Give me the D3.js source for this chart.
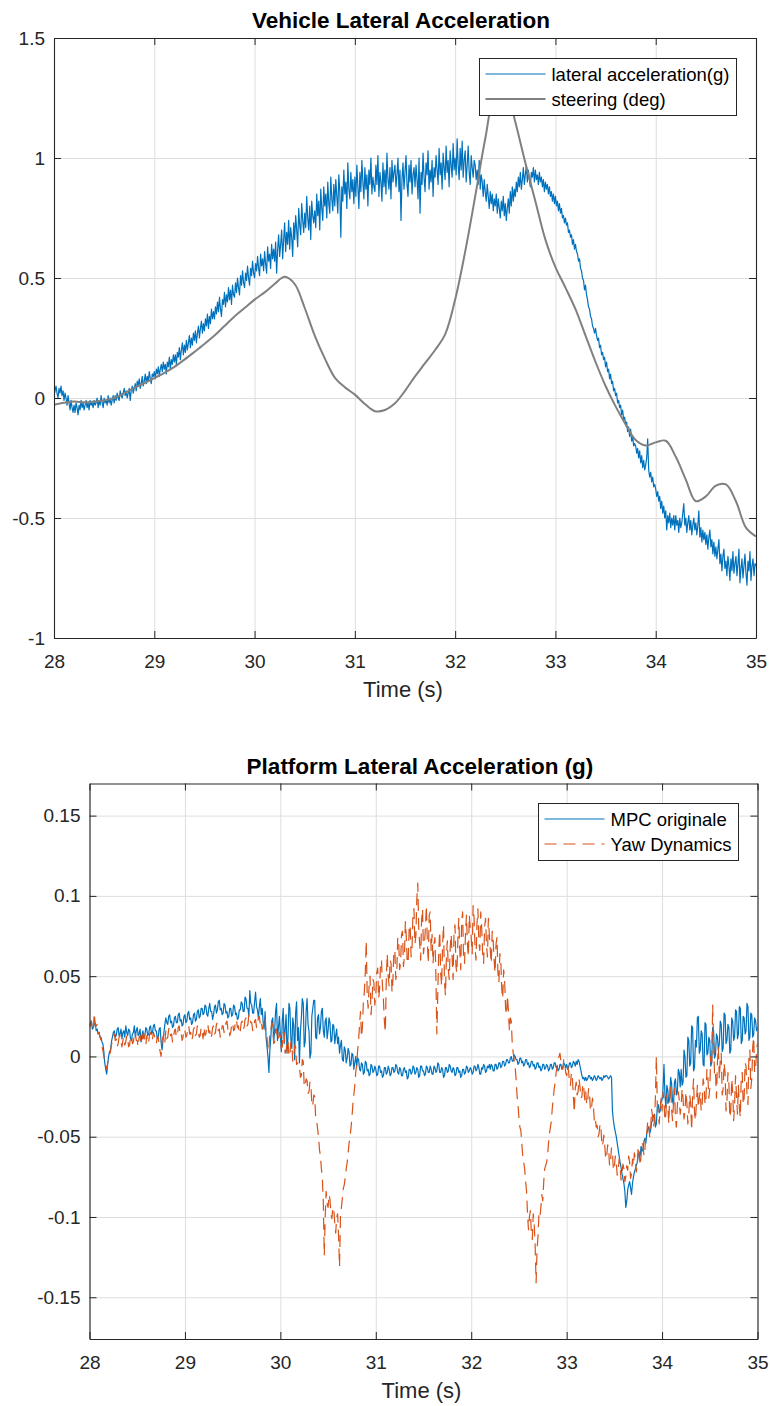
<!DOCTYPE html>
<html>
<head>
<meta charset="utf-8">
<script src="https://cdn.jsdelivr.net/npm/d3@7"></script>
<style>
  body { margin: 0; background: #ffffff; }
  svg { display: block; font-family: "Liberation Sans", Arial, Helvetica, sans-serif; }
</style>
</head>
<body>
<svg id="fig" width="770" height="1406"></svg>
<script>
// ---- time axis ----
const T0 = 28;   // first sample (s)
const T1 = 35;   // last sample (s)  -- every series is sampled uniformly over [T0, T1]

// ---- tick labels ----
const timeTicks = [28, 29, 30, 31, 32, 33, 34, 35];
const vehicleTicks = [-1, -0.5, 0, 0.5, 1, 1.5];
const platformTicks = [-0.15, -0.1, -0.05, 0, 0.05, 0.1, 0.15];

// ---- vehicle lateral acceleration (g), 0.01 s samples, one row = 0.2 s ----
const latAcc = [
  0.01, 0.03, 0.05, 0.02, 0.00, 0.04, 0.02, 0.05, 0.01, 0.03, -0.01, 0.02, 0.00, -0.03, 0.01, -0.02, -0.05, -0.01, -0.04, -0.06,
  -0.03, -0.06, -0.02, -0.04, -0.07, -0.03, -0.05, -0.01, -0.04, -0.02, -0.05, -0.03, -0.01, -0.04, -0.02, -0.05, -0.01, -0.03, -0.02, -0.04,
  -0.01, -0.03, -0.02, 0.00, -0.04, -0.01, -0.03, 0.01, -0.02, -0.04, 0.00, -0.02, -0.01, -0.03, 0.01, -0.02, 0.00, -0.03, -0.01, 0.01,
  -0.02, 0.01, -0.01, 0.02, 0.00, -0.01, 0.03, 0.01, 0.00, 0.02, 0.04, 0.01, 0.03, 0.00, 0.02, 0.04, -0.01, 0.03, 0.05, 0.02,
  0.04, 0.06, 0.03, 0.07, 0.05, 0.08, 0.04, 0.06, 0.09, 0.05, 0.07, 0.10, 0.06, 0.09, 0.07, 0.11, 0.08, 0.06, 0.10, 0.09,
  0.11, 0.08, 0.12, 0.10, 0.13, 0.09, 0.12, 0.14, 0.11, 0.15, 0.12, 0.14, 0.10, 0.15, 0.13, 0.17, 0.12, 0.16, 0.14, 0.18,
  0.15, 0.18, 0.14, 0.19, 0.17, 0.21, 0.16, 0.20, 0.23, 0.18, 0.22, 0.19, 0.24, 0.20, 0.23, 0.26, 0.21, 0.25, 0.22, 0.27,
  0.24, 0.28, 0.23, 0.27, 0.30, 0.25, 0.29, 0.32, 0.27, 0.31, 0.28, 0.33, 0.30, 0.35, 0.29, 0.34, 0.31, 0.37, 0.33, 0.36,
  0.33, 0.38, 0.35, 0.40, 0.36, 0.42, 0.37, 0.34, 0.41, 0.39, 0.44, 0.38, 0.43, 0.40, 0.46, 0.41, 0.45, 0.39, 0.47, 0.43,
  0.42, 0.48, 0.44, 0.50, 0.46, 0.43, 0.51, 0.47, 0.53, 0.48, 0.46, 0.52, 0.49, 0.55, 0.50, 0.47, 0.54, 0.51, 0.57, 0.52,
  0.50, 0.56, 0.53, 0.59, 0.54, 0.51, 0.60, 0.55, 0.58, 0.53, 0.61, 0.56, 0.52, 0.63, 0.57, 0.60, 0.54, 0.64, 0.58, 0.62,
  0.57, 0.65, 0.52, 0.62, 0.68, 0.59, 0.64, 0.70, 0.58, 0.66, 0.73, 0.61, 0.69, 0.64, 0.74, 0.62, 0.71, 0.67, 0.59, 0.73,
  0.66, 0.76, 0.70, 0.63, 0.79, 0.72, 0.68, 0.81, 0.74, 0.69, 0.77, 0.71, 0.84, 0.75, 0.70, 0.80, 0.66, 0.82, 0.76, 0.73,
  0.78, 0.71, 0.85, 0.76, 0.82, 0.70, 0.87, 0.79, 0.74, 0.88, 0.80, 0.85, 0.75, 0.90, 0.81, 0.77, 0.92, 0.83, 0.78, 0.89,
  0.80, 0.91, 0.84, 0.77, 0.93, 0.86, 0.67, 0.88, 0.82, 0.95, 0.85, 0.90, 0.79, 0.98, 0.87, 0.83, 0.94, 0.86, 0.91, 0.81,
  0.92, 0.84, 0.97, 0.88, 0.79, 0.94, 0.86, 0.99, 0.90, 0.83, 0.96, 0.87, 0.93, 0.80, 0.95, 0.89, 1.00, 0.85, 0.92, 0.88,
  0.86, 0.97, 0.89, 1.01, 0.84, 0.94, 0.90, 0.82, 0.98, 0.88, 0.95, 0.85, 1.02, 0.91, 0.87, 0.96, 0.83, 0.99, 0.90, 0.94,
  0.97, 0.88, 0.93, 1.00, 0.86, 0.95, 0.74, 0.91, 0.98, 0.87, 0.94, 1.01, 0.89, 0.84, 0.97, 0.90, 0.99, 0.85, 0.93, 0.96,
  0.88, 0.97, 0.91, 0.83, 1.00, 0.77, 0.94, 0.89, 1.02, 0.92, 0.86, 0.98, 0.93, 1.03, 0.87, 0.95, 0.90, 0.99, 0.84, 0.96,
  0.92, 1.01, 0.95, 0.89, 1.04, 0.93, 0.98, 0.87, 1.02, 0.96, 0.91, 1.05, 0.94, 0.99, 0.88, 1.03, 0.97, 0.92, 1.06, 0.95,
  1.00, 0.93, 1.08, 0.97, 0.91, 1.04, 0.95, 1.07, 0.92, 0.99, 1.03, 0.90, 0.97, 1.05, 0.94, 0.89, 1.01, 0.96, 0.92, 0.99,
  0.97, 0.91, 0.95, 0.89, 0.99, 0.87, 0.93, 0.90, 0.84, 0.91, 0.86, 0.82, 0.89, 0.84, 0.79, 0.86, 0.81, 0.85, 0.78, 0.83,
  0.80, 0.85, 0.77, 0.83, 0.79, 0.75, 0.82, 0.78, 0.84, 0.76, 0.81, 0.74, 0.79, 0.83, 0.77, 0.86, 0.80, 0.88, 0.82, 0.87,
  0.84, 0.90, 0.86, 0.92, 0.88, 0.94, 0.87, 0.91, 0.96, 0.89, 0.93, 0.97, 0.90, 0.95, 0.91, 0.88, 0.94, 0.92, 0.96, 0.90,
  0.95, 0.91, 0.93, 0.89, 0.94, 0.90, 0.92, 0.88, 0.91, 0.86, 0.90, 0.87, 0.89, 0.85, 0.88, 0.84, 0.86, 0.82, 0.85, 0.81,
  0.84, 0.80, 0.82, 0.78, 0.81, 0.77, 0.79, 0.75, 0.76, 0.73, 0.75, 0.72, 0.73, 0.69, 0.70, 0.67, 0.68, 0.64, 0.66, 0.62,
  0.64, 0.61, 0.60, 0.57, 0.58, 0.54, 0.53, 0.50, 0.49, 0.45, 0.47, 0.43, 0.41, 0.38, 0.37, 0.34, 0.33, 0.30, 0.29, 0.27,
  0.29, 0.26, 0.24, 0.25, 0.21, 0.22, 0.18, 0.19, 0.16, 0.17, 0.13, 0.15, 0.11, 0.12, 0.08, 0.10, 0.06, 0.07, 0.03, 0.04,
  0.01, 0.02, -0.02, -0.01, -0.04, -0.03, -0.07, -0.05, -0.09, -0.08, -0.11, -0.10, -0.14, -0.12, -0.16, -0.13, -0.18, -0.16, -0.20, -0.19,
  -0.20, -0.23, -0.21, -0.25, -0.22, -0.27, -0.24, -0.29, -0.26, -0.30, -0.28, -0.25, -0.17, -0.30, -0.33, -0.31, -0.35, -0.33, -0.37, -0.36,
  -0.38, -0.41, -0.39, -0.43, -0.41, -0.46, -0.43, -0.48, -0.45, -0.50, -0.47, -0.55, -0.49, -0.52, -0.48, -0.54, -0.50, -0.53, -0.49, -0.55,
  -0.49, -0.53, -0.51, -0.56, -0.50, -0.54, -0.52, -0.48, -0.44, -0.53, -0.50, -0.56, -0.52, -0.49, -0.55, -0.51, -0.57, -0.53, -0.50, -0.55,
  -0.52, -0.57, -0.53, -0.47, -0.58, -0.54, -0.60, -0.55, -0.59, -0.56, -0.61, -0.57, -0.63, -0.58, -0.55, -0.62, -0.59, -0.65, -0.60, -0.66,
  -0.62, -0.67, -0.63, -0.59, -0.69, -0.65, -0.72, -0.66, -0.63, -0.71, -0.68, -0.74, -0.66, -0.70, -0.76, -0.67, -0.72, -0.64, -0.73, -0.69,
  -0.66, -0.74, -0.69, -0.63, -0.77, -0.71, -0.67, -0.75, -0.70, -0.65, -0.73, -0.78, -0.68, -0.72, -0.64, -0.76, -0.70, -0.67, -0.74, -0.69,
  -0.70
];

// ---- steering (deg), 0.1 s samples, one row = 1 s ----
const steering = [
  -0.028, -0.020, -0.015, -0.018, -0.015, -0.010, 0.000, 0.020, 0.042, 0.062,
  0.083, 0.105, 0.130, 0.160, 0.192, 0.225, 0.260, 0.300, 0.340, 0.375,
  0.410, 0.440, 0.475, 0.505, 0.475, 0.375, 0.260, 0.165, 0.085, 0.045,
  0.014, -0.025, -0.055, -0.050, -0.022, 0.030, 0.090, 0.145, 0.200, 0.265,
  0.410, 0.610, 0.840, 1.080, 1.270, 1.300, 1.150, 0.980, 0.820, 0.660,
  0.545, 0.460, 0.370, 0.260, 0.150, 0.050, -0.035, -0.110, -0.175, -0.198,
  -0.185, -0.178, -0.245, -0.340, -0.430, -0.410, -0.365, -0.360, -0.430, -0.540,
  -0.577
];

// ---- platform lateral acceleration (g), 0.01 s samples, one row = 0.2 s ----
const mpcOriginale = [
  0.019, 0.021, 0.022, 0.017, 0.018, 0.020, 0.021, 0.016, 0.017, 0.014, 0.015, 0.012, 0.012, 0.009, 0.008, 0.003, -0.004, -0.008, -0.011, -0.005,
  0.000, 0.003, 0.004, 0.009, 0.012, 0.015, 0.016, 0.012, 0.013, 0.017, 0.018, 0.013, 0.014, 0.017, 0.011, 0.015, 0.016, 0.012, 0.019, 0.015,
  0.013, 0.017, 0.016, 0.011, 0.010, 0.014, 0.015, 0.019, 0.012, 0.016, 0.018, 0.013, 0.014, 0.017, 0.009, 0.013, 0.016, 0.011, 0.013, 0.018,
  0.017, 0.013, 0.014, 0.018, 0.019, 0.014, 0.015, 0.019, 0.020, 0.016, 0.016, 0.011, 0.012, 0.017, 0.018, 0.009, 0.004, 0.010, 0.015, 0.020,
  0.024, 0.021, 0.020, 0.025, 0.026, 0.021, 0.022, 0.018, 0.019, 0.024, 0.025, 0.021, 0.021, 0.026, 0.027, 0.022, 0.023, 0.019, 0.020, 0.025,
  0.026, 0.021, 0.022, 0.027, 0.028, 0.023, 0.024, 0.020, 0.021, 0.026, 0.027, 0.022, 0.023, 0.028, 0.029, 0.024, 0.025, 0.030, 0.030, 0.026,
  0.027, 0.032, 0.031, 0.026, 0.025, 0.030, 0.033, 0.028, 0.028, 0.023, 0.026, 0.031, 0.032, 0.027, 0.029, 0.034, 0.035, 0.029, 0.030, 0.026,
  0.027, 0.033, 0.032, 0.027, 0.028, 0.024, 0.025, 0.030, 0.030, 0.025, 0.026, 0.032, 0.031, 0.026, 0.027, 0.023, 0.024, 0.029, 0.029, 0.034,
  0.033, 0.028, 0.028, 0.037, 0.036, 0.030, 0.030, 0.025, 0.041, 0.033, 0.032, 0.027, 0.027, 0.034, 0.040, 0.031, 0.029, 0.024, 0.031, 0.036,
  0.026, 0.030, 0.021, 0.017, 0.028, 0.012, 0.006, 0.000, -0.010, 0.004, 0.012, 0.022, 0.024, 0.009, 0.016, 0.028, 0.033, 0.010, 0.018, 0.025,
  0.014, 0.003, 0.022, 0.030, 0.008, 0.017, 0.026, 0.002, 0.012, 0.033, 0.030, 0.011, 0.005, 0.024, 0.019, -0.002, 0.027, 0.034, 0.010, 0.018,
  -0.004, 0.015, 0.024, 0.036, 0.033, 0.006, 0.009, 0.028, 0.036, 0.020, 0.016, -0.001, 0.002, 0.025, 0.030, 0.035, 0.035, 0.012, 0.011, 0.024,
  0.026, 0.014, 0.018, 0.028, 0.030, 0.016, 0.012, 0.022, 0.024, 0.011, 0.016, 0.024, 0.021, 0.009, 0.010, 0.020, 0.019, 0.008, 0.013, 0.017,
  0.008, 0.012, 0.002, 0.007, 0.010, -0.002, -0.003, 0.006, 0.004, -0.004, -0.001, 0.005, 0.003, -0.006, -0.005, 0.002, 0.001, -0.008, -0.004, 0.000,
  -0.006, -0.001, -0.002, -0.008, -0.009, -0.004, -0.005, -0.011, -0.010, -0.003, -0.004, -0.009, -0.008, -0.012, -0.011, -0.005, -0.006, -0.010, -0.009, -0.006,
  -0.008, -0.012, -0.011, -0.006, -0.006, -0.010, -0.009, -0.013, -0.012, -0.007, -0.007, -0.011, -0.010, -0.006, -0.008, -0.012, -0.011, -0.007, -0.007, -0.010,
  -0.009, -0.005, -0.006, -0.010, -0.011, -0.007, -0.008, -0.012, -0.012, -0.008, -0.007, -0.010, -0.009, -0.014, -0.013, -0.008, -0.008, -0.011, -0.010, -0.006,
  -0.007, -0.011, -0.010, -0.007, -0.008, -0.013, -0.012, -0.006, -0.006, -0.009, -0.009, -0.012, -0.011, -0.006, -0.007, -0.010, -0.010, -0.006, -0.008, -0.011,
  -0.011, -0.006, -0.007, -0.010, -0.009, -0.004, -0.005, -0.010, -0.010, -0.007, -0.008, -0.013, -0.012, -0.007, -0.007, -0.010, -0.009, -0.005, -0.006, -0.009,
  -0.010, -0.007, -0.008, -0.012, -0.011, -0.007, -0.007, -0.010, -0.009, -0.013, -0.012, -0.008, -0.008, -0.011, -0.010, -0.006, -0.007, -0.010, -0.009, -0.007,
  -0.008, -0.011, -0.010, -0.006, -0.006, -0.009, -0.008, -0.005, -0.007, -0.011, -0.011, -0.007, -0.008, -0.005, -0.006, -0.010, -0.009, -0.006, -0.007, -0.005,
  -0.008, -0.005, -0.006, -0.009, -0.009, -0.005, -0.005, -0.008, -0.007, -0.004, -0.004, -0.007, -0.006, -0.003, -0.003, -0.006, -0.005, -0.002, -0.002, -0.004,
  -0.004, -0.001, 0.000, -0.003, -0.003, 0.001, 0.000, -0.002, -0.002, -0.005, -0.004, -0.001, -0.001, -0.004, -0.003, -0.006, -0.005, -0.002, -0.002, -0.005,
  -0.004, -0.007, -0.006, -0.003, -0.003, -0.006, -0.005, -0.008, -0.007, -0.004, -0.004, -0.007, -0.006, -0.009, -0.008, -0.005, -0.005, -0.008, -0.007, -0.005,
  -0.006, -0.009, -0.008, -0.005, -0.005, -0.008, -0.007, -0.004, -0.004, -0.007, -0.006, -0.009, -0.008, -0.005, -0.005, -0.008, -0.007, -0.004, -0.005, -0.007,
  -0.005, -0.008, -0.007, -0.004, -0.004, -0.007, -0.006, -0.003, -0.004, -0.006, -0.003, -0.005, -0.002, -0.003, -0.006, -0.009, -0.012, -0.014, -0.013, -0.015,
  -0.013, -0.015, -0.014, -0.012, -0.012, -0.014, -0.013, -0.015, -0.014, -0.012, -0.013, -0.015, -0.014, -0.012, -0.013, -0.014, -0.013, -0.015, -0.014, -0.012,
  -0.013, -0.012, -0.012, -0.013, -0.014, -0.013, -0.012, -0.013, -0.034, -0.040, -0.044, -0.047, -0.050, -0.054, -0.058, -0.062, -0.066, -0.069, -0.073, -0.076,
  -0.079, -0.084, -0.094, -0.090, -0.083, -0.080, -0.078, -0.082, -0.086, -0.079, -0.075, -0.072, -0.070, -0.068, -0.066, -0.062, -0.060, -0.062, -0.056, -0.059,
  -0.058, -0.053, -0.051, -0.054, -0.048, -0.045, -0.044, -0.048, -0.046, -0.041, -0.040, -0.037, -0.036, -0.044, -0.042, -0.031, -0.030, -0.035, -0.034, -0.028,
  -0.027, -0.020, -0.005, -0.024, -0.032, -0.018, -0.021, -0.029, -0.026, -0.013, -0.017, -0.028, -0.030, -0.016, -0.014, -0.024, -0.022, -0.008, -0.010, -0.019,
  -0.008, -0.018, -0.016, 0.004, 0.000, -0.013, -0.012, 0.012, 0.010, -0.006, -0.004, 0.019, 0.018, -0.009, -0.007, 0.010, 0.006, 0.024, 0.025, 0.002,
  0.004, 0.016, 0.014, -0.005, -0.006, 0.021, 0.020, 0.001, 0.002, 0.012, 0.010, -0.006, -0.004, 0.018, 0.016, -0.001, 0.001, 0.014, 0.012, 0.004,
  0.008, 0.022, 0.020, 0.003, 0.005, 0.027, 0.026, 0.008, 0.010, 0.020, 0.018, 0.002, 0.004, 0.024, 0.022, 0.010, 0.012, 0.029, 0.028, 0.011,
  0.014, 0.031, 0.030, 0.008, 0.010, 0.025, 0.024, 0.014, 0.016, 0.033, 0.031, 0.010, 0.012, 0.027, 0.026, 0.012, 0.014, 0.024, 0.022, 0.016,
  0.018
];

const yawDynamics = [
  0.018, 0.020, 0.022, 0.016, 0.017, 0.027, 0.020, 0.019, 0.020, 0.014, 0.015, 0.012, 0.010, 0.006, 0.004, 0.000, -0.003, -0.006, -0.008, -0.004,
  -0.002, 0.001, 0.003, 0.007, 0.010, 0.013, 0.014, 0.010, 0.011, 0.006, 0.008, 0.012, 0.013, 0.009, 0.006, 0.010, 0.012, 0.007, 0.009, 0.013,
  0.011, 0.006, 0.007, 0.012, 0.013, 0.008, 0.009, 0.014, 0.015, 0.010, 0.010, 0.006, 0.012, 0.013, 0.008, 0.009, 0.014, 0.014, 0.011, 0.007,
  0.013, 0.008, 0.009, 0.014, 0.015, 0.010, 0.011, 0.015, 0.013, 0.009, 0.008, 0.012, 0.012, 0.007, 0.003, 0.000, 0.010, 0.012, 0.014, 0.009,
  0.016, 0.011, 0.012, 0.017, 0.018, 0.013, 0.014, 0.009, 0.011, 0.016, 0.017, 0.012, 0.013, 0.018, 0.019, 0.014, 0.015, 0.010, 0.012, 0.017,
  0.016, 0.012, 0.013, 0.018, 0.019, 0.014, 0.015, 0.010, 0.012, 0.017, 0.018, 0.013, 0.014, 0.019, 0.017, 0.012, 0.013, 0.018, 0.016, 0.011,
  0.018, 0.013, 0.014, 0.019, 0.020, 0.015, 0.016, 0.011, 0.013, 0.018, 0.019, 0.014, 0.015, 0.020, 0.021, 0.016, 0.017, 0.012, 0.014, 0.019,
  0.019, 0.015, 0.016, 0.021, 0.022, 0.017, 0.018, 0.013, 0.015, 0.020, 0.021, 0.016, 0.017, 0.022, 0.023, 0.018, 0.019, 0.014, 0.016, 0.021,
  0.022, 0.017, 0.018, 0.023, 0.024, 0.019, 0.020, 0.026, 0.026, 0.021, 0.021, 0.016, 0.017, 0.022, 0.023, 0.018, 0.019, 0.024, 0.025, 0.020,
  0.022, 0.017, 0.018, 0.024, 0.024, 0.012, 0.012, 0.003, 0.004, 0.016, 0.016, 0.021, 0.020, 0.008, 0.009, 0.017, 0.017, 0.010, 0.011, 0.015,
  0.012, 0.005, 0.006, 0.015, 0.015, 0.002, 0.003, 0.010, 0.010, 0.000, 0.001, 0.009, 0.008, -0.003, -0.002, 0.007, 0.006, -0.005, -0.004, -0.006,
  -0.006, -0.013, -0.012, -0.002, -0.003, -0.019, -0.018, -0.014, -0.015, -0.023, -0.022, -0.016, -0.017, -0.031, -0.030, -0.024, -0.025, -0.038, -0.040, -0.045,
  -0.050, -0.058, -0.062, -0.070, -0.076, -0.090, -0.124, -0.100, -0.084, -0.092, -0.094, -0.086, -0.089, -0.098, -0.101, -0.094, -0.095, -0.104, -0.110, -0.100,
  -0.098, -0.112, -0.131, -0.100, -0.094, -0.088, -0.082, -0.080, -0.075, -0.070, -0.066, -0.060, -0.054, -0.050, -0.045, -0.038, -0.030, -0.024, -0.018, -0.010,
  -0.005, 0.004, 0.010, 0.020, 0.028, 0.012, 0.018, 0.034, 0.040, 0.052, 0.072, 0.038, 0.030, 0.044, 0.050, 0.026, 0.034, 0.048, 0.046, 0.032,
  0.038, 0.052, 0.055, 0.036, 0.042, 0.058, 0.060, 0.044, 0.035, 0.022, 0.015, 0.048, 0.064, 0.050, 0.044, 0.060, 0.058, 0.040, 0.048, 0.066,
  0.066, 0.048, 0.052, 0.074, 0.072, 0.054, 0.058, 0.076, 0.078, 0.056, 0.062, 0.084, 0.074, 0.058, 0.060, 0.080, 0.082, 0.062, 0.068, 0.090,
  0.092, 0.070, 0.075, 0.098, 0.108, 0.080, 0.070, 0.060, 0.085, 0.092, 0.064, 0.070, 0.080, 0.094, 0.072, 0.058, 0.088, 0.090, 0.066, 0.076,
  0.058, 0.070, 0.074, 0.050, 0.014, 0.040, 0.066, 0.078, 0.052, 0.044, 0.070, 0.082, 0.046, 0.038, 0.062, 0.072, 0.054, 0.048, 0.068, 0.076,
  0.062, 0.048, 0.078, 0.082, 0.056, 0.052, 0.072, 0.086, 0.066, 0.054, 0.084, 0.090, 0.060, 0.058, 0.076, 0.088, 0.070, 0.062, 0.088, 0.080,
  0.074, 0.064, 0.094, 0.086, 0.068, 0.060, 0.082, 0.092, 0.072, 0.066, 0.090, 0.080, 0.064, 0.058, 0.080, 0.086, 0.070, 0.062, 0.086, 0.076,
  0.066, 0.058, 0.078, 0.072, 0.060, 0.052, 0.070, 0.074, 0.052, 0.046, 0.064, 0.060, 0.042, 0.036, 0.054, 0.048, 0.030, 0.026, 0.038, 0.028,
  0.016, 0.024, 0.022, 0.008, 0.002, -0.002, -0.006, -0.014, -0.024, -0.030, -0.038, -0.044, -0.046, -0.054, -0.062, -0.066, -0.070, -0.078, -0.084, -0.098,
  -0.108, -0.100, -0.096, -0.110, -0.114, -0.098, -0.104, -0.118, -0.141, -0.120, -0.112, -0.098, -0.100, -0.094, -0.086, -0.090, -0.078, -0.070, -0.068, -0.066,
  -0.062, -0.054, -0.048, -0.044, -0.040, -0.032, -0.026, -0.020, -0.016, -0.010, -0.006, -0.002, 0.000, 0.002, -0.003, -0.006, -0.008, -0.002, -0.004, -0.010,
  -0.012, -0.006, -0.009, -0.016, -0.018, -0.010, -0.013, -0.024, -0.035, -0.020, -0.016, -0.024, -0.022, -0.014, -0.019, -0.026, -0.025, -0.017, -0.020, -0.027,
  -0.022, -0.030, -0.028, -0.020, -0.024, -0.034, -0.033, -0.026, -0.030, -0.040, -0.038, -0.044, -0.043, -0.050, -0.048, -0.042, -0.045, -0.056, -0.054, -0.049,
  -0.056, -0.064, -0.062, -0.055, -0.058, -0.068, -0.065, -0.057, -0.060, -0.071, -0.069, -0.062, -0.066, -0.074, -0.071, -0.064, -0.068, -0.077, -0.073, -0.067,
  -0.070, -0.078, -0.075, -0.068, -0.071, -0.062, -0.066, -0.076, -0.073, -0.064, -0.068, -0.060, -0.064, -0.072, -0.067, -0.056, -0.060, -0.068, -0.062, -0.054,
  -0.055, -0.062, -0.058, -0.047, -0.048, -0.040, -0.042, -0.050, -0.045, -0.033, -0.037, -0.044, -0.040, -0.026, 0.000, -0.030, -0.036, -0.042, -0.032, -0.026,
  -0.034, -0.022, -0.028, -0.040, -0.036, -0.024, -0.030, -0.042, -0.025, -0.018, -0.033, -0.040, -0.029, -0.020, -0.038, -0.044, -0.031, -0.022, -0.027, -0.036,
  -0.031, -0.020, -0.026, -0.039, -0.034, -0.022, -0.029, -0.042, -0.036, -0.024, -0.030, -0.046, -0.024, -0.014, -0.035, -0.040, -0.028, -0.018, -0.032, -0.026,
  -0.022, -0.034, -0.030, -0.014, -0.018, -0.030, -0.026, -0.008, -0.012, -0.026, -0.020, 0.000, -0.006, 0.032, 0.010, -0.012, -0.010, -0.026, -0.004, 0.006,
  -0.014, -0.002, 0.002, -0.024, -0.020, -0.004, -0.010, -0.034, -0.028, -0.010, -0.016, -0.038, -0.034, -0.014, -0.022, -0.040, -0.030, -0.012, -0.024, -0.036,
  -0.018, -0.032, -0.038, -0.012, -0.010, -0.030, -0.026, -0.004, -0.006, -0.024, -0.030, 0.000, 0.004, -0.020, -0.014, 0.006, 0.012, -0.010, -0.008, 0.004,
  0.008
];

// ---- styling ----
const AXIS_COLOR = "#262626";
const GRID_COLOR = "#dedede";
const BLUE = "#0072BD";
const GREY = "#808080";
const ORANGE = "#D95319";
const TICK_FONT = 19;
const TICK_LEN = 7;

const svg = d3.select("#fig");
const defs = svg.append("defs");
const fmt = d => String(d);

function drawPanel(p) {
  const x = d3.scaleLinear().domain([T0, T1]).range([p.left, p.right]);
  const y = d3.scaleLinear().domain(p.yDomain).range([p.bottom, p.top]);
  const w = p.right - p.left, h = p.bottom - p.top;
  const g = svg.append("g");

  // grid
  g.append("g")
    .attr("transform", `translate(0,${p.bottom})`)
    .call(d3.axisBottom(x).tickValues(timeTicks).tickSize(-h).tickFormat(""))
    .call(s => { s.select(".domain").remove(); s.selectAll("line").attr("stroke", GRID_COLOR); });
  g.append("g")
    .attr("transform", `translate(${p.left},0)`)
    .call(d3.axisLeft(y).tickValues(p.yTicks).tickSize(-w).tickFormat(""))
    .call(s => { s.select(".domain").remove(); s.selectAll("line").attr("stroke", GRID_COLOR); });

  // signals, clipped to the axes box
  defs.append("clipPath").attr("id", "clip-" + p.id)
    .append("rect").attr("x", p.left).attr("y", p.top).attr("width", w).attr("height", h);
  const plot = g.append("g").attr("clip-path", `url(#clip-${p.id})`);
  p.series.forEach(s => {
    const step = (T1 - T0) / (s.values.length - 1);
    const line = d3.line()
      .x((d, i) => x(T0 + i * step))
      .y(d => y(d))
      .curve(s.curve || d3.curveLinear);
    plot.append("path")
      .datum(s.values)
      .attr("d", line)
      .attr("fill", "none")
      .attr("stroke", s.color)
      .attr("stroke-width", s.width)
      .attr("stroke-linejoin", "round")
      .attr("stroke-dasharray", s.dash || null);
  });

  // axes with inward ticks on all four sides
  const style = s => {
    s.attr("font-family", null).attr("font-size", null);
    s.selectAll(".domain").attr("stroke", AXIS_COLOR).attr("stroke-width", 1.1);
    s.selectAll(".tick line").attr("stroke", AXIS_COLOR);
    s.selectAll(".tick text").attr("fill", AXIS_COLOR).style("font-size", TICK_FONT + "px");
  };
  g.append("g").attr("transform", `translate(0,${p.bottom})`)
    .call(d3.axisBottom(x).tickValues(timeTicks).tickSizeInner(-TICK_LEN).tickSizeOuter(0)
      .tickPadding(16.5).tickFormat(fmt))
    .call(style);
  g.append("g").attr("transform", `translate(0,${p.top})`)
    .call(d3.axisTop(x).tickValues(timeTicks).tickSizeInner(-TICK_LEN).tickSizeOuter(0).tickFormat(""))
    .call(style);
  g.append("g").attr("transform", `translate(${p.left},0)`)
    .call(d3.axisLeft(y).tickValues(p.yTicks).tickSizeInner(-TICK_LEN).tickSizeOuter(0)
      .tickPadding(9).tickFormat(fmt))
    .call(style);
  g.append("g").attr("transform", `translate(${p.right},0)`)
    .call(d3.axisRight(y).tickValues(p.yTicks).tickSizeInner(-TICK_LEN).tickSizeOuter(0).tickFormat(""))
    .call(style);

  // title and x label
  g.append("text")
    .attr("x", p.titleX).attr("y", p.titleY)
    .attr("text-anchor", "middle")
    .attr("font-weight", "bold").attr("font-size", 22.5).attr("fill", "#000")
    .text(p.title);
  g.append("text")
    .attr("x", (p.left + p.right) / 2 - 2).attr("y", p.bottom + 59)
    .attr("text-anchor", "middle")
    .attr("font-size", 22).attr("fill", AXIS_COLOR)
    .text("Time (s)");

  // legend
  const L = p.legend;
  const lg = g.append("g");
  lg.append("rect")
    .attr("x", L.x).attr("y", L.y).attr("width", L.w).attr("height", L.h)
    .attr("fill", "#fff").attr("stroke", AXIS_COLOR).attr("stroke-width", 1);
  p.series.forEach((s, i) => {
    const cy = L.y + L.firstRow + i * L.rowGap;
    lg.append("line")
      .attr("x1", L.x + 6).attr("x2", L.x + 66).attr("y1", cy).attr("y2", cy)
      .attr("stroke", s.color).attr("stroke-width", s.width)
      .attr("stroke-dasharray", s.dash || null);
    lg.append("text")
      .attr("x", L.x + 72).attr("y", cy + 6.5)
      .attr("font-size", 18.5).attr("fill", "#000")
      .text(s.name);
  });
}

drawPanel({
  id: "vehicle",
  left: 54, right: 756, top: 38, bottom: 638,
  yDomain: [-1, 1.5], yTicks: vehicleTicks,
  title: "Vehicle Lateral Acceleration", titleX: 401, titleY: 28,
  legend: { x: 479.5, y: 58.5, w: 257, h: 57, firstRow: 15.5, rowGap: 25 },
  series: [
    { name: "lateral acceleration(g)", values: latAcc, color: BLUE, width: 1.2 },
    { name: "steering (deg)", values: steering, color: GREY, width: 2,
      curve: d3.curveCatmullRom.alpha(0.5) }
  ]
});

drawPanel({
  id: "platform",
  left: 89.5, right: 757.5, top: 783.5, bottom: 1339,
  yDomain: [-0.176, 0.17], yTicks: platformTicks,
  title: "Platform Lateral Acceleration (g)", titleX: 420, titleY: 774,
  legend: { x: 538.5, y: 803.5, w: 200, h: 57, firstRow: 15.5, rowGap: 25 },
  series: [
    { name: "MPC originale", values: mpcOriginale, color: BLUE, width: 1.2 },
    { name: "Yaw Dynamics", values: yawDynamics, color: ORANGE, width: 1.2, dash: "12,7" }
  ]
});
</script>
</body>
</html>
